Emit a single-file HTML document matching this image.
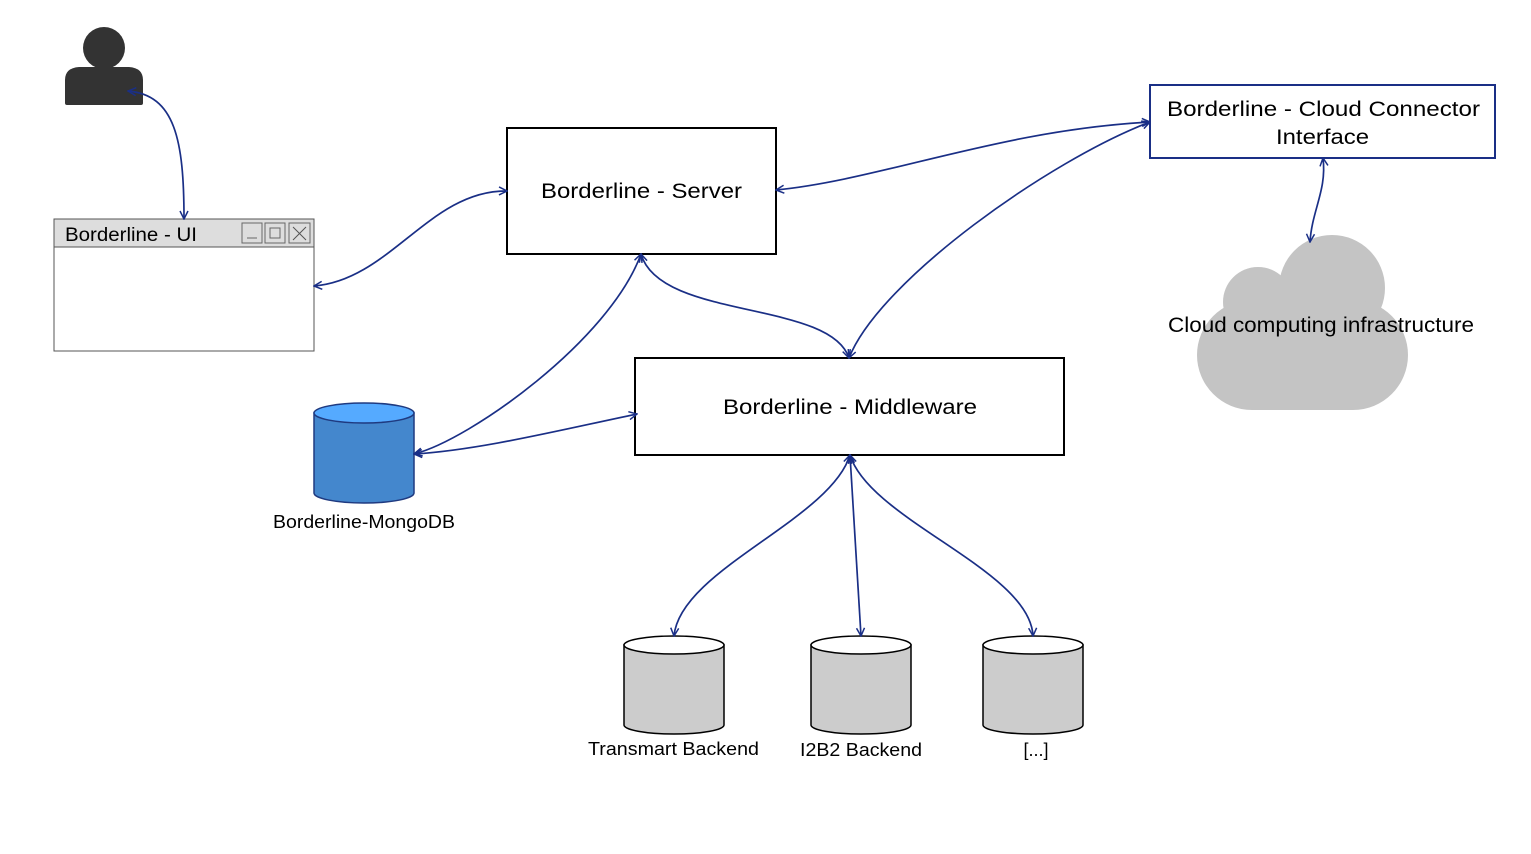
<!DOCTYPE html>
<html><head><meta charset="utf-8"><style>
body{margin:0;background:#fff;}
svg{display:block;font-family:"Liberation Sans",Arial,sans-serif;}
</style></head><body>
<svg width="1531" height="854" viewBox="0 0 1531 854" xmlns="http://www.w3.org/2000/svg">
<defs>
<marker id="a" viewBox="0 0 10 10" refX="9" refY="5" markerWidth="10" markerHeight="10" markerUnits="userSpaceOnUse" orient="auto-start-reverse">
<path d="M1,1 L9,5 L1,9" fill="none" stroke="#1a2f86" stroke-width="1.5"/>
</marker>
</defs>
<rect width="1531" height="854" fill="#fff"/>
<circle cx="104" cy="48" r="21" fill="#333"/>
<path d="M65,80 Q65,68 79,67 L129,67 Q143,68 143,80 L143,103 Q143,105 141,105 L67,105 Q65,105 65,103 Z" fill="#333"/>
<rect x="54" y="247" width="260" height="104" fill="#fff" stroke="#555" stroke-width="1"/>
<rect x="54" y="219" width="260" height="28" fill="#ddd" stroke="#555" stroke-width="1"/>
<text x="65" y="241" font-size="19" textLength="132" lengthAdjust="spacingAndGlyphs">Borderline - UI</text>
<rect x="242" y="223" width="20" height="20" fill="none" stroke="#666"/>
<line x1="247" y1="238" x2="257" y2="238" stroke="#666"/>
<rect x="265" y="223" width="20" height="20" fill="none" stroke="#666"/>
<rect x="270" y="228" width="10" height="10" fill="none" stroke="#666"/>
<rect x="289" y="223" width="21" height="20" fill="none" stroke="#666"/>
<path d="M293,227 L306,240 M306,227 L293,240" stroke="#555"/>
<rect x="507" y="128" width="269" height="126" fill="#fff" stroke="#000" stroke-width="2"/>
<text x="541" y="198" font-size="21" textLength="201" lengthAdjust="spacingAndGlyphs">Borderline - Server</text>
<rect x="635" y="358" width="429" height="97" fill="#fff" stroke="#000" stroke-width="2"/>
<text x="723" y="414" font-size="21" textLength="254" lengthAdjust="spacingAndGlyphs">Borderline - Middleware</text>
<rect x="1150" y="85" width="345" height="73" fill="#fff" stroke="#1a2f86" stroke-width="2"/>
<text x="1167" y="116" font-size="21" textLength="313" lengthAdjust="spacingAndGlyphs">Borderline - Cloud Connector</text>
<text x="1276" y="144" font-size="21" textLength="93" lengthAdjust="spacingAndGlyphs">Interface</text>
<g fill="#c4c4c4">
<circle cx="1332" cy="288" r="53"/>
<circle cx="1258" cy="302" r="35"/>
<rect x="1197" y="300" width="211" height="110" rx="55"/>
</g>
<text x="1168" y="332" font-size="21" textLength="306" lengthAdjust="spacingAndGlyphs">Cloud computing infrastructure</text>
<path d="M314,413 L314,493 A50,10 0 0 0 414,493 L414,413 Z" fill="#4487cd" stroke="#1f3a80" stroke-width="1.5"/>
<ellipse cx="364" cy="413" rx="50" ry="10" fill="#55aaff" stroke="#1f3a80" stroke-width="1.5"/>
<text x="273" y="528" font-size="18" textLength="182" lengthAdjust="spacingAndGlyphs">Borderline-MongoDB</text>
<g stroke="#000" stroke-width="1.5">
<path d="M624,645 L624,725 A50,9 0 0 0 724,725 L724,645 Z" fill="#ccc"/>
<ellipse cx="674" cy="645" rx="50" ry="9" fill="#fff"/>
<path d="M811,645 L811,725 A50,9 0 0 0 911,725 L911,645 Z" fill="#ccc"/>
<ellipse cx="861" cy="645" rx="50" ry="9" fill="#fff"/>
<path d="M983,645 L983,725 A50,9 0 0 0 1083,725 L1083,645 Z" fill="#ccc"/>
<ellipse cx="1033" cy="645" rx="50" ry="9" fill="#fff"/>
</g>
<text x="588" y="755" font-size="18" textLength="171" lengthAdjust="spacingAndGlyphs">Transmart Backend</text>
<text x="800" y="756" font-size="18" textLength="122" lengthAdjust="spacingAndGlyphs">I2B2 Backend</text>
<text x="1036" y="756" font-size="18" text-anchor="middle">[...]</text>
<g fill="none" stroke="#1a2f86" stroke-width="1.7" marker-start="url(#a)" marker-end="url(#a)">
<path d="M128,91 C175,95 184,140 184,219"/>
<path d="M314,286 C390,280 430,190 507,191"/>
<path d="M776,190 C880,180 1000,130 1150,122"/>
<path d="M641,254 C660,320 830,300 849,358"/>
<path d="M641,254 C610,340 470,440 414,454"/>
<path d="M414,454 C480,450 560,430 637,414"/>
<path d="M849,358 C880,280 1050,160 1150,122"/>
<path d="M1323,158 C1327,190 1312,210 1310,242"/>
<path d="M850,455 C830,520 680,570 674,636"/>
<path d="M850,455 L861,636"/>
<path d="M850,455 C870,520 1030,570 1033,636"/>
</g>
</svg>
</body></html>
